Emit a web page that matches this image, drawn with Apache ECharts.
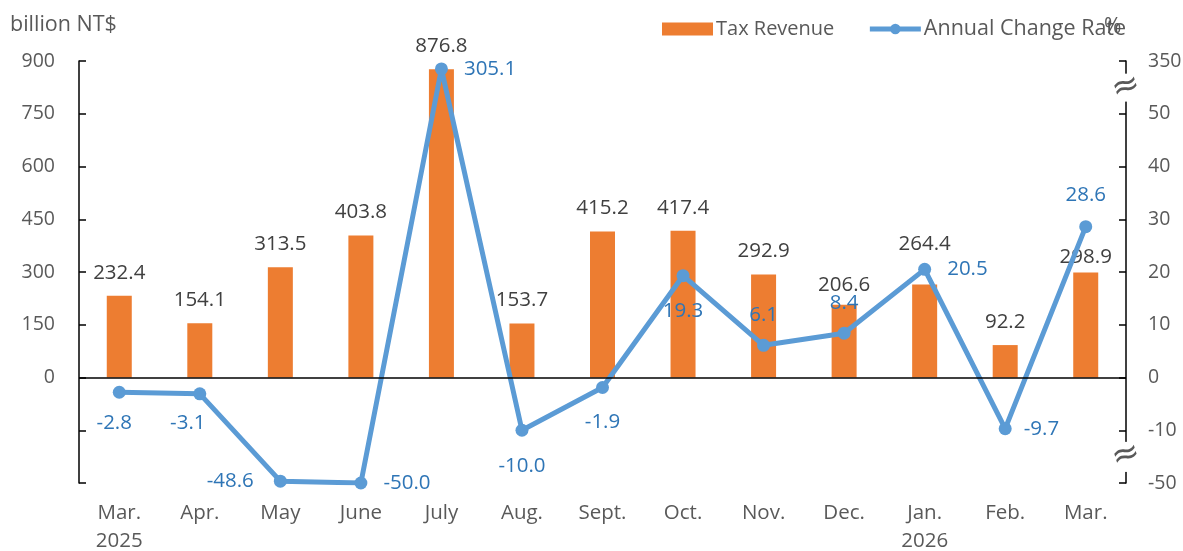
<!DOCTYPE html>
<html><head><meta charset="utf-8">
<script src="https://cdn.jsdelivr.net/npm/echarts@6/dist/echarts.min.js"></script>
<style>html,body{margin:0;padding:0;background:#fff}#c{width:1183px;height:551px}</style>
</head><body><div id="c"></div>
<script>
const categories = ['Mar.\n2025','Apr.','May','June','July','Aug.','Sept.','Oct.','Nov.','Dec.','Jan.\n2026','Feb.','Mar.'];
const taxRevenue = [232.4,154.1,313.5,403.8,876.8,153.7,415.2,417.4,292.9,206.6,264.4,92.2,298.9];
const annualChange = [-2.8,-3.1,-48.6,-50.0,305.1,-10.0,-1.9,19.3,6.1,8.4,20.5,-9.7,28.6];
const leftTicks = {min:-300, max:900, interval:150};
const rightBreaks = {hiFrom:50, hiTo:350, loFrom:-10, loTo:-50};

// label placement (style only)
const lineLabelPos  = ['bottom','bottom','left','right','right','bottom','bottom','bottom','top','top','right','right','top'];
const lineLabelDist = [12,11,20,16,16,17,16,17,12,12,16,12,13];
const lineLabelDx   = [-5,-12,0,0,0,0,0,0,0,0,0,0,0];
const barLabelDy    = [0,0,0,0,0,0,0,0,0,3,-17,0,8];

// broken right axis: [50,350] compressed into 10 units, [-50,-10] compressed into 10 units
function toAxis(v){
  if (v > rightBreaks.hiFrom) return 50 + (v-rightBreaks.hiFrom)/(rightBreaks.hiTo-rightBreaks.hiFrom)*10;
  if (v < rightBreaks.loFrom) return -10 + (v-rightBreaks.loFrom)/(rightBreaks.loFrom-rightBreaks.loTo)*10;
  return v;
}
function fromAxis(a){
  if (a > 50) return 50 + (a-50)*(rightBreaks.hiTo-rightBreaks.hiFrom)/10;
  if (a < -10) return -10 + (a+10)*(rightBreaks.loFrom-rightBreaks.loTo)/10;
  return a;
}

const FONT = 'Open Sans';
const chart = echarts.init(document.getElementById('c'), null, {renderer:'canvas'});
const option = {
  backgroundColor:'#fff',
  animation:false,
  textStyle:{fontFamily:FONT},
  title:[
    {text:'billion NT$', left:5, top:9, textStyle:{fontFamily:FONT, fontSize:21.5, fontWeight:'normal', color:'#595959'}},
    {text:'%', left:1099, top:12, z:10, textStyle:{fontFamily:FONT, fontSize:21, fontWeight:'normal', color:'#595959'}}
  ],
  legend:{
    left:657, top:13, itemGap:33, itemWidth:51, itemHeight:13,
    textStyle:{fontFamily:FONT, fontSize:20, color:'#595959', padding:[0,0,0,-2]},
    data:[{name:'Tax Revenue', icon:'rect'},
          {name:'Annual Change Rate', textStyle:{fontSize:21.5}, lineStyle:{width:5}}]
  },
  grid:{left:79, right:57, top:61, bottom:68, outerBoundsMode:'none', containLabel:false},
  xAxis:{
    type:'category', data:categories, boundaryGap:true,
    axisLine:{show:false, onZero:false}, axisTick:{show:false},
    axisLabel:{margin:16, fontSize:20.5, lineHeight:28, color:'#595959', fontFamily:FONT, interval:0}
  },
  yAxis:[
    {type:'value', min:leftTicks.min, max:leftTicks.max, interval:leftTicks.interval,
     splitLine:{show:false},
     axisLine:{show:true, lineStyle:{color:'#000', width:1.5}},
     axisTick:{show:true, inside:true, length:7, lineStyle:{color:'#000', width:1.5}},
     axisLabel:{margin:24, fontSize:19.5, color:'#595959', fontFamily:FONT, formatter:v=> v<0 ? '' : String(v)}},
    {type:'value', min:-20, max:60, interval:10, position:'right',
     splitLine:{show:false},
     axisLine:{show:true, lineStyle:{color:'#000', width:1.5}},
     axisTick:{show:true, inside:true, length:7, lineStyle:{color:'#000', width:1.5}},
     axisLabel:{margin:22, fontSize:19.5, color:'#595959', fontFamily:FONT, formatter:v=> String(Math.round(fromAxis(v)))}}
  ],
  series:[
    {name:'Tax Revenue', type:'bar', yAxisIndex:0, barWidth:25,
     itemStyle:{color:'#ED7D31'},
     data: taxRevenue.map((v,i)=>({value:v, label:{offset:[0, barLabelDy[i]]}})),
     label:{show:true, position:'top', distance:11, fontSize:20.5, lineHeight:24, color:'#404040', fontFamily:FONT,
            formatter:p=>taxRevenue[p.dataIndex].toFixed(1)},
     markLine:{silent:true, symbol:['none','none'], label:{show:false},
               lineStyle:{color:'#000', width:1.5, type:'solid'},
               emphasis:{disabled:true},
               data:[{yAxis:0}]},
     z:2},
    {name:'Annual Change Rate', type:'line', yAxisIndex:1,
     symbol:'circle', symbolSize:13, showSymbol:true,
     lineStyle:{color:'#5B9BD5', width:5},
     itemStyle:{color:'#5B9BD5'},
     data: annualChange.map((v,i)=>({
        value: toAxis(v),
        label:{position:lineLabelPos[i], offset:[lineLabelDx[i],0], distance:lineLabelDist[i]}
     })),
     label:{show:true, fontSize:20.5, lineHeight:24, color:'#2E75B6', fontFamily:FONT,
            formatter:p=>annualChange[p.dataIndex].toFixed(1)},
     z:3}
  ]
};
chart.setOption(option);

// break marks on the right axis, placed through the axis scales
const x0 = chart.convertToPixel({xAxisIndex:0}, 0);
const x12 = chart.convertToPixel({xAxisIndex:0}, categories.length-1);
const bw = (x12-x0)/(categories.length-1);
const axisX = x12 + bw/2;
const yPix = a => chart.convertToPixel({yAxisIndex:1}, a);
const gaps = [[57.6,52.3,55],[-12.2,-17.9,-14.8]];
const graphics = [];
gaps.forEach(g=>{
  const yA = yPix(g[0]), yB = yPix(g[1]), yC = yPix(g[2]);
  graphics.push({type:'rect', shape:{x:axisX-5, y:yA, width:10, height:yB-yA}, style:{fill:'#fff'}, z:100});
  graphics.push({type:'text', x:axisX, y:yC, rotation:0.3,
     style:{text:'≈', font:'34px DejaVu Sans', fill:'#595959', textAlign:'center', textVerticalAlign:'middle'}, z:101});
});
chart.setOption({graphic:graphics});
</script></body></html>
